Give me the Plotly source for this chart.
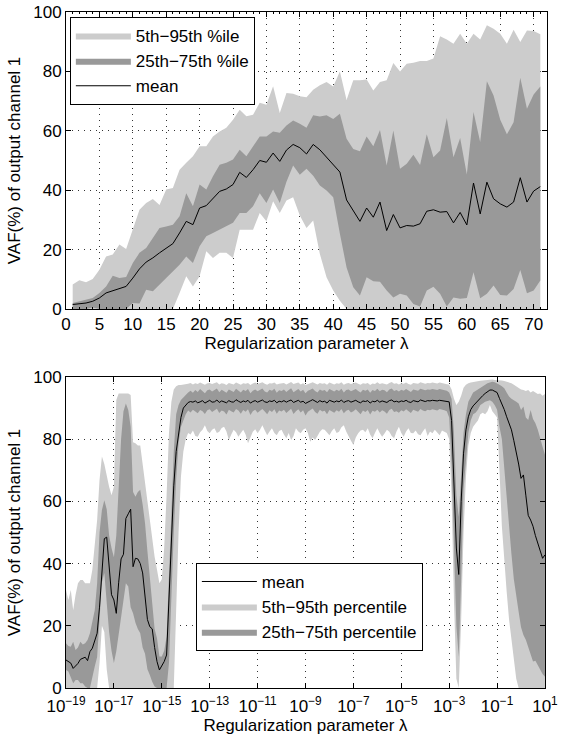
import numpy as np
import plotly.graph_objects as go

# ---------------- top panel data (lambda = 1..71) ----------------
lam_top = list(range(1, 72))

mean_top = [1.5, 1.8, 2.0, 2.6, 3.7, 5.4, 6.2, 7.0, 7.6, 10.4,
            13.5, 15.8, 17.2, 18.9, 20.5, 22.0, 25.6, 29.5, 28.4, 34.0,
            34.8, 37.3, 39.6, 40.4, 41.9, 46.0, 44.3, 46.9, 50.0, 49.4,
            52.5, 49.7, 53.5, 55.4, 54.3, 52.2, 55.4, 53.6, 51.1, 48.3,
            46.1, 36.7, 33.1, 29.5, 34.0, 30.9, 36.0, 26.4, 31.8, 27.3,
            28.1, 27.9, 28.7, 32.9, 33.4, 32.6, 32.8, 29.0, 32.5, 28.3,
            42.4, 32.0, 42.7, 37.1, 35.4, 34.3, 36.0, 44.2, 36.0, 39.7,
            41.2]
p95_top = [8.2, 9.7, 9.0, 10.1, 13.2, 17.7, 18.3, 21.7, 20.2, 26.7,
           33.4, 35.7, 37.0, 35.0, 40.2, 40.7, 46.9, 49.2, 51.4, 54.8,
           54.8, 58.1, 59.8, 61.0, 63.7, 67.1, 64.9, 65.4, 69.4, 68.8,
           75.0, 66.0, 72.7, 72.5, 71.6, 71.3, 73.8, 75.3, 76.4, 74.9,
           80.0, 70.4, 77.0, 77.0, 77.3, 73.6, 76.4, 77.0, 82.8, 80.0,
           82.6, 82.9, 83.5, 83.5, 84.3, 91.8, 90.7, 89.3, 92.7, 89.3,
           92.7, 90.7, 95.5, 94.4, 92.7, 89.3, 94.0, 89.9, 93.8, 93.6,
           92.5]
p75_top = [2.0, 2.6, 3.1, 3.7, 5.4, 7.6, 11.2, 10.4, 10.8, 15.5,
           18.9, 20.5, 23.9, 27.3, 27.8, 28.4, 31.2, 39.0, 34.6, 41.9,
           40.2, 44.7, 48.6, 49.2, 50.3, 53.6, 51.4, 54.8, 58.1, 58.1,
           59.8, 59.3, 61.8, 63.5, 62.4, 61.0, 65.2, 64.8, 65.2, 64.0,
           65.7, 57.3, 53.9, 53.1, 58.1, 54.8, 60.3, 48.3, 60.1, 47.2,
           48.9, 51.9, 48.5, 58.8, 51.1, 53.4, 64.3, 51.1, 57.6, 45.3,
           66.3, 56.2, 76.7, 71.9, 63.7, 58.8, 62.9, 77.9, 67.4, 72.2,
           74.9]
p25_top = [0.0, 0.0, 0.0, 0.5, 0.0, 0.0, 0.0, 0.0, 0.0, 2.0,
           1.8, 6.5, 6.0, 8.2, 10.4, 12.7, 14.9, 17.7, 15.5, 21.1,
           24.5, 25.6, 26.7, 27.8, 29.0, 32.3, 32.3, 34.6, 39.0, 35.7,
           40.2, 35.7, 42.8, 48.3, 45.2, 47.2, 44.9, 41.6, 39.9, 37.6,
           25.3, 14.0, 7.3, 4.5, 10.7, 9.3, 9.2, 6.2, 3.9, 5.1,
           4.5, 1.7, 0.8, 6.2, 7.5, 5.1, 0.8, 3.9, 3.4, 3.7,
           12.4, 3.6, 5.1, 7.9, 4.7, 4.5, 6.7, 13.1, 5.3, 6.2,
           9.6]
p5_top = [0.0, 0.0, 0.0, 0.0, 0.0, 0.0, 0.0, 0.0, 0.0, 0.0,
          0.0, 0.0, 0.0, 0.0, 0.0, 0.0, 5.4, 11.0, 7.6, 11.0,
          19.4, 17.2, 18.9, 18.9, 17.2, 26.7, 26.7, 26.7, 32.3, 29.5,
          36.3, 32.3, 36.5, 37.6, 31.5, 27.3, 29.8, 18.5, 10.7, 6.2,
          2.8, 0.0, 0.0, 0.0, 0.0, 0.0, 0.0, 0.0, 0.0, 0.0,
          0.0, 0.0, 0.0, 0.0, 0.0, 0.0, 0.0, 0.0, 0.0, 0.0,
          0.0, 0.0, 0.0, 0.0, 0.0, 0.0, 0.0, 0.0, 0.0, 0.0,
          0.0]

# ---------------- bottom panel data (lambda = 10^-19 .. 10^1, 10 per decade) ----------------
lam_exp = np.linspace(-19, 1, 201)
lam_bot = list(10.0 ** lam_exp)

mean_bot = [
    9.0, 8.5, 8.0, 6.3, 7.0, 7.9, 9.2, 9.6, 9.9, 8.8,            # 1e-19
    11.7, 12.8, 15.0, 17.6, 26.0, 36.0, 48.0, 48.5, 39.0, 30.0,  # 1e-18
    28.3, 24.0, 34.0, 41.5, 43.0, 54.5, 56.0, 57.5, 39.0, 41.7,  # 1e-17
    41.5, 40.0, 37.0, 29.4, 22.0, 19.7, 19.0, 13.0, 8.5, 5.8,    # 1e-16
    7.0, 8.5, 10.6, 28.0, 50.0, 65.0, 76.0, 82.0, 87.0, 90.0,    # 1e-15
    91.0, 91.8, 92.1, 91.9, 92.3, 91.7, 92.0, 92.4, 91.6, 92.2,  # 1e-14
    92.5, 91.9, 92.0, 92.6, 91.8, 92.3, 92.1, 91.7, 92.4, 92.0,  # 1e-13
    91.9, 92.7, 92.2, 91.8, 92.3, 92.0, 92.5, 91.6, 92.1, 92.4,  # 1e-12
    91.9, 92.2, 92.6, 92.0, 91.8, 92.3, 92.1, 92.5, 91.7, 92.2,  # 1e-11
    92.0, 92.4, 91.9, 92.3, 92.6, 91.8, 92.1, 92.5, 91.9, 92.2,  # 1e-10
    91.5, 92.0, 92.3, 92.7, 92.1, 91.8, 92.4, 92.0, 92.2, 91.6,  # 1e-9
    92.5, 92.1, 91.9, 92.3, 92.0, 92.6, 91.8, 92.2, 92.4, 91.9,  # 1e-8
    92.1, 92.5, 92.0, 91.7, 92.3, 92.1, 92.4, 91.6, 92.2, 92.0,  # 1e-7
    92.5, 91.9, 92.3, 92.1, 91.8, 92.4, 92.6, 92.0, 92.2, 91.9,  # 1e-6
    92.3, 92.1, 92.5, 92.0, 91.8, 92.4, 92.2, 92.0, 92.6, 92.3,  # 1e-5
    92.1, 92.4, 92.3, 92.5, 92.4, 92.3, 92.5, 92.4, 92.3, 92.2,  # 1e-4
    92.0, 86.0, 64.0, 45.0, 36.5, 60.0, 75.5, 83.0, 87.2, 89.5,  # 1e-3
    90.7, 91.6, 92.4, 93.3, 94.0, 94.7, 95.2, 95.8, 95.8, 95.5,  # 1e-2
    95.0, 93.1, 91.5, 89.5, 87.2, 85.0, 83.0, 79.5, 76.0, 72.0,  # 1e-1
    67.4, 68.5, 62.0, 55.5, 54.0, 52.0, 49.0, 46.5, 44.4, 41.7,  # 1e0
    42.8]
p95_bot = [
    31.5, 28.3, 31.5, 25.0, 30.0, 33.7, 34.7, 34.7, 33.7, 33.7,
    33.7, 38.0, 45.0, 54.0, 66.9, 74.4, 72.0, 68.0, 64.7, 62.0,
    64.7, 92.6, 94.7, 94.7, 94.7, 94.7, 94.7, 94.2, 79.0, 78.7,
    78.0, 78.0, 72.0, 66.0, 59.4, 55.0, 48.7, 42.2, 38.0, 33.7,
    35.0, 45.0, 62.0, 82.0, 92.0, 96.0, 97.0, 97.4, 97.4, 97.5,
    97.5, 97.8, 98.1, 97.6, 98.0, 97.7, 98.2, 97.9, 97.5, 98.0,
    98.1, 97.7, 97.9, 98.3, 97.6, 98.0, 97.8, 97.4, 98.1, 97.9,
    97.6, 98.2, 97.9, 97.5, 98.0, 97.8, 98.1, 97.4, 97.9, 98.2,
    97.7, 97.9, 98.3, 97.8, 97.5, 98.0, 97.9, 98.2, 97.6, 97.8,
    97.9, 98.1, 97.6, 98.0, 98.4, 97.7, 97.9, 98.2, 97.6, 98.0,
    97.4, 97.8, 98.0, 98.3, 97.9, 97.6, 98.1, 97.8, 98.0, 97.5,
    98.2, 97.9, 97.6, 98.0, 97.8, 98.3, 97.5, 97.9, 98.1, 97.7,
    97.9, 98.2, 97.8, 97.5, 98.0, 97.8, 98.1, 97.4, 97.9, 97.7,
    98.3, 97.7, 98.0, 97.9, 97.6, 98.1, 98.4, 97.8, 98.0, 97.6,
    98.0, 97.8, 98.2, 97.7, 97.5, 98.1, 97.9, 97.8, 98.3, 98.0,
    97.8, 98.1, 98.0, 98.2, 98.1, 97.9, 98.2, 98.0, 97.9, 97.7,
    97.5, 96.0, 93.0, 91.0, 92.0, 94.0, 96.5, 97.5, 98.0, 98.2,
    98.4, 98.5, 98.6, 98.8, 98.9, 99.0, 99.1, 99.0, 99.2, 99.0,
    99.0, 98.8, 98.9, 98.7, 98.5, 98.4, 98.0, 97.5, 97.0, 96.5,
    96.0, 95.8, 95.5, 95.8, 95.0, 95.5, 95.0, 94.5, 94.7, 94.0,
    94.5]
p75_bot = [
    14.4, 13.5, 13.3, 14.9, 12.2, 13.0, 14.9, 14.0, 14.4, 15.4,
    17.6, 21.0, 25.0, 33.7, 50.0, 57.2, 60.4, 57.5, 49.0, 45.0,
    42.0, 49.0, 66.0, 80.0, 89.0, 91.5, 89.4, 84.0, 63.0, 61.5,
    63.0, 63.7, 59.0, 53.0, 44.0, 35.8, 27.0, 19.0, 16.0, 10.1,
    10.1, 12.0, 16.5, 38.0, 60.0, 76.0, 88.0, 91.0, 92.6, 93.5,
    94.2, 95.0, 95.6, 94.9, 95.8, 95.2, 96.1, 95.5, 94.8, 95.7,
    96.0, 95.3, 95.7, 96.3, 95.1, 95.9, 95.4, 94.9, 96.0, 95.6,
    95.2, 96.2, 95.7, 95.0, 95.9, 95.5, 96.1, 94.8, 95.6, 96.0,
    95.4, 95.8, 96.3, 95.3, 95.0, 95.9, 95.6, 96.2, 94.9, 95.7,
    95.5, 96.0, 95.2, 95.8, 96.4, 95.1, 95.7, 96.1, 95.3, 95.9,
    94.8, 95.6, 95.9, 96.3, 95.5, 95.0, 96.0, 95.6, 95.8, 95.1,
    96.1, 95.7, 95.3, 95.9, 95.5, 96.2, 95.0, 95.8, 96.0, 95.4,
    95.7, 96.1, 95.5, 95.0, 95.9, 95.6, 96.0, 94.9, 95.8, 95.5,
    96.2, 95.4, 95.9, 95.7, 95.1, 96.0, 96.3, 95.5, 95.8, 95.3,
    95.9, 95.6, 96.1, 95.5, 95.2, 96.0, 95.8, 95.6, 96.2, 95.9,
    95.7, 96.0, 95.9, 96.1, 96.0, 95.8, 96.1, 96.0, 95.9, 95.6,
    95.0, 93.0, 82.0, 62.0, 55.0, 70.0, 82.0, 88.0, 92.0, 93.5,
    95.0, 95.5, 96.0, 96.4, 97.0, 97.5, 98.0, 98.2, 98.5, 98.3,
    98.0, 97.5, 97.0, 96.4, 95.0, 93.7, 93.0, 92.6, 92.0, 91.5,
    89.4, 90.5, 87.0, 86.2, 89.4, 86.5, 85.1, 83.0, 80.0, 77.6,
    75.0]
p25_bot = [
    5.8, 5.3, 3.5, 1.5, 2.6, 2.6, 1.5, 1.5, 0.5, 0.0,
    0.0, 3.1, 6.9, 10.0, 21.9, 34.0, 37.0, 28.0, 18.0, 12.0,
    8.0, 11.8, 18.0, 23.0, 28.0, 33.7, 32.6, 26.0, 24.0, 21.0,
    19.0, 17.6, 13.0, 11.0, 6.0, 4.2, 2.0, 0.5, 0.0, 0.0,
    0.0, 0.0, 0.0, 8.0, 30.0, 50.0, 67.0, 78.7, 84.0, 86.0,
    88.0, 89.2, 88.6, 89.5, 88.9, 88.3, 89.4, 89.0, 88.1, 89.3,
    89.6, 88.7, 89.1, 89.8, 88.4, 89.2, 88.9, 87.9, 89.5, 89.0,
    88.6, 89.7, 89.2, 88.2, 89.4, 88.8, 89.6, 87.8, 89.0, 89.5,
    88.5, 89.1, 89.7, 88.9, 88.0, 89.3, 88.7, 89.6, 88.2, 89.2,
    88.9, 89.5, 88.4, 89.2, 89.8, 88.1, 89.0, 89.6, 88.6, 89.3,
    87.6, 88.8, 89.4, 89.9, 88.7, 88.2, 89.5, 88.9, 89.1, 88.0,
    89.4, 89.0, 88.5, 89.3, 88.8, 89.7, 88.3, 89.1, 89.5, 88.6,
    89.0, 89.6, 88.9, 88.0, 89.2, 88.7, 89.4, 87.9, 89.1, 88.8,
    89.5, 88.6, 89.3, 88.9, 88.2, 89.4, 89.8, 88.7, 89.0, 88.5,
    89.3, 88.9, 89.6, 89.0, 88.4, 89.5, 89.1, 88.8, 89.7, 89.2,
    89.0, 89.5, 89.3, 89.6, 89.4, 89.2, 89.7, 89.5, 89.3, 89.0,
    87.0, 72.0, 48.0, 20.0, 10.0, 35.0, 64.0, 74.0, 82.0, 86.0,
    88.0, 88.5, 89.5, 91.0, 91.5, 92.0, 92.3, 92.5, 92.0, 91.0,
    89.5, 84.0, 80.0, 69.0, 60.0, 52.0, 43.0, 35.0, 29.5, 24.5,
    19.5, 17.0, 15.5, 13.0, 11.0, 8.5, 8.8, 7.5, 5.8, 4.5,
    3.6]
p5_bot = [
    0.0, 0.0, 0.0, 0.0, 0.0, 0.0, 0.0, 0.0, 0.0, 0.0,
    0.0, 0.0, 0.0, 0.0, 8.0, 20.0, 18.0, 6.0, 0.0, 0.0,
    0.0, 0.0, 0.0, 0.0, 0.0, 0.0, 0.0, 0.0, 0.0, 0.0,
    0.0, 0.0, 0.0, 0.0, 0.0, 0.0, 0.0, 0.0, 0.0, 0.0,
    0.0, 0.0, 0.0, 0.0, 0.0, 0.0, 25.0, 50.0, 68.0, 76.0,
    80.0, 82.0, 81.5, 82.8, 81.0, 80.8, 82.2, 83.0, 84.5, 82.6,
    81.9, 83.0, 83.5, 82.0, 82.4, 83.6, 84.0, 82.5, 79.7, 81.5,
    83.0, 82.2, 80.8, 82.0, 83.0, 81.5, 78.7, 80.5, 82.4, 83.2,
    81.9, 83.0, 84.5, 82.8, 81.3, 82.5, 83.5, 82.0, 81.3, 82.6,
    83.0, 81.5, 80.3, 82.0, 79.7, 81.0, 83.5, 82.5, 81.9, 83.0,
    83.5, 82.0, 79.2, 80.5, 79.7, 81.0, 82.4, 83.2, 83.0, 82.0,
    81.3, 82.6, 83.5, 82.0, 82.4, 83.8, 84.5, 82.5, 80.8, 79.5,
    78.1, 80.5, 81.9, 82.8, 83.0, 82.2, 83.5, 81.5, 80.3, 82.0,
    83.5, 82.0, 80.8, 81.8, 83.0, 82.4, 81.0, 80.3, 82.5, 84.0,
    82.0, 80.8, 82.5, 83.5, 82.0, 81.9, 82.8, 81.6, 81.3, 82.5,
    83.5, 81.0, 82.5, 81.9, 83.0, 82.0, 81.3, 82.8, 82.5, 82.0,
    80.0, 62.0, 28.0, 3.0, 0.0, 22.0, 50.0, 68.0, 78.0, 82.0,
    84.0, 85.0, 86.0, 88.0, 88.5, 88.0, 89.0, 91.0, 89.0, 88.0,
    87.0, 70.0, 52.0, 42.0, 31.0, 22.0, 15.0, 9.0, 3.0, 0.0,
    0.0, 0.0, 0.0, 0.0, 0.0, 0.0, 0.0, 0.0, 0.0, 0.0,
    0.0]

LIGHT = "#cccccc"
DARK = "#999999"
FONT = "Liberation Sans, Arial, Helvetica, sans-serif"
FS = 17


def band(x, lo, hi, color, name, xa, ya, legend, rank):
    xs = list(x) + list(x)[::-1]
    ys = list(hi) + list(lo)[::-1]
    return go.Scatter(x=xs, y=ys, fill="toself", fillcolor=color, mode="lines",
                      line=dict(width=0, color=color), name=name,
                      xaxis=xa, yaxis=ya, legend=legend, legendrank=rank,
                      hoverinfo="skip")


fig = go.Figure()
# top panel
fig.add_trace(band(lam_top, p5_top, p95_top, LIGHT, "5th\u221295th %ile", "x", "y", "legend", 1))
fig.add_trace(band(lam_top, p25_top, p75_top, DARK, "25th\u221275th %ile", "x", "y", "legend", 2))
fig.add_trace(go.Scatter(x=lam_top, y=mean_top, mode="lines", line=dict(color="black", width=1),
                         name="mean", xaxis="x", yaxis="y", legend="legend", legendrank=3))
# bottom panel
fig.add_trace(band(lam_bot, p5_bot, p95_bot, LIGHT, "5th\u221295th percentile", "x2", "y2", "legend2", 2))
fig.add_trace(band(lam_bot, p25_bot, p75_bot, DARK, "25th\u221275th percentile", "x2", "y2", "legend2", 3))
fig.add_trace(go.Scatter(x=lam_bot, y=mean_bot, mode="lines", line=dict(color="black", width=1),
                         name="mean", xaxis="x2", yaxis="y2", legend="legend2", legendrank=1))

axis_common = dict(showline=True, linecolor="black", linewidth=1, mirror="ticks",
                   ticks="inside", ticklen=5, tickcolor="black", automargin=False,
                   ticklabeloverflow="allow",
                   showgrid=True, gridcolor="#333333", griddash="1px,5px", gridwidth=1,
                   zeroline=False, tickfont=dict(size=FS, color="black", family=FONT),
                   title_font=dict(size=FS, color="black", family=FONT))

log_ticks = [10.0 ** k for k in range(-19, 2, 2)]
log_text = ["10<sup>\u2212%d</sup>" % (-k) if k < 0 else "10<sup>%d</sup>" % k for k in range(-19, 2, 2)]

fig.update_layout(
    width=567, height=740,
    paper_bgcolor="white", plot_bgcolor="white",
    font=dict(family=FONT, size=FS, color="black"),
    margin=dict(l=66, r=20, t=12, b=52, autoexpand=False),
    showlegend=True,
    xaxis=dict(axis_common, domain=[0, 1], anchor="y", range=[0, 72],
               tickvals=list(range(0, 71, 5)),
               minor=dict(dtick=1, ticks="inside", ticklen=2, tickcolor="black", showgrid=False),
               title=dict(text="Regularization parameter \u03bb", standoff=2)),
    yaxis=dict(axis_common, domain=[0.5607, 1], anchor="x", range=[0, 100],
               tickvals=[0, 20, 40, 60, 80, 100],
               title=dict(text="VAF(%) of output channel 1", standoff=8)),
    xaxis2=dict(axis_common, domain=[0, 0.9958], anchor="y2", type="log", range=[-19, 1],
                tickvals=log_ticks, ticktext=log_text, ticklabelstandoff=3,
                title=dict(text="Regularization parameter \u03bb", standoff=0)),
    yaxis2=dict(axis_common, domain=[0, 0.4601], anchor="x2", range=[0, 100],
                tickvals=[0, 20, 40, 60, 80, 100],
                title=dict(text="VAF(%) of output channel 1", standoff=8)),
    legend=dict(x=0.008, y=0.9926, xanchor="left", yanchor="top",
                bordercolor="black", borderwidth=1, bgcolor="white",
                font=dict(size=FS, family=FONT, color="black"), itemwidth=55,
                traceorder="normal"),
    legend2=dict(x=0.27, y=0.185, xanchor="left", yanchor="top",
                 bordercolor="black", borderwidth=1, bgcolor="white",
                 font=dict(size=FS, family=FONT, color="black"), itemwidth=55,
                 traceorder="normal"),
)

# remove the browser's default 8 px page margin so the figure fills the window exactly
fig.write_html("out.html", config={"displayModeBar": False},
               post_script="document.body.style.margin='0';")
